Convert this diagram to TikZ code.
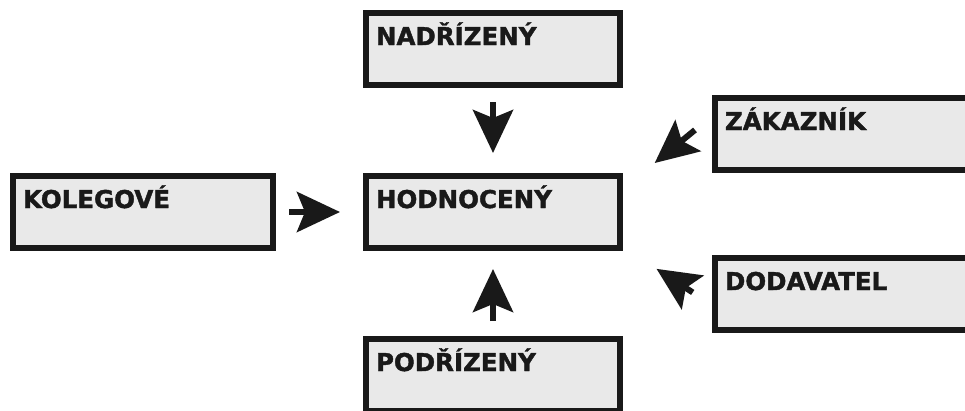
\documentclass[tikz,border=0pt]{standalone}
\usepackage{fontspec}
\setmainfont{DejaVu Sans}[BoldFeatures={FakeBold=1.6}]
\usepackage{tikz}
\usetikzlibrary{arrows.meta,positioning}

\begin{document}
\begin{tikzpicture}[
    x=1pt, y=1pt,
    rolebox/.style={rectangle, draw=black!90, line width=6pt, fill=gray!17,
        minimum width=254pt, text width=234pt, align=left,
        inner xsep=10pt, inner ysep=14pt, text height=18pt, text depth=26pt,
        font=\fontsize{24.5}{28}\selectfont\bfseries, text=black!90},
    arrow/.style={-{Stealth[length=43pt, width=40pt, inset=8pt]}, line width=6pt, black!90},
]
\useasboundingbox (0,0) rectangle (965,-410);

% Evaluated person
\node[rolebox, anchor=north west] (hodnoceny) at (363,-173) {HODNOCENÝ};

% Evaluators
\node[rolebox, above=85pt of hodnoceny] (nadrizeny) {NADŘÍZENÝ};
\node[rolebox, below=85pt of hodnoceny] (podrizeny) {PODŘÍZENÝ};
\node[rolebox, left=87pt of hodnoceny, text width=240pt] (kolegove) {KOLEGOVÉ};
\node[rolebox, anchor=north west] (zakaznik) at (712,-95) {ZÁKAZNÍK};
\node[rolebox, anchor=north west] (dodavatel) at (712,-255) {DODAVATEL};

% Feedback arrows
\draw[arrow, shorten <=14pt, shorten >=20pt] (nadrizeny) -- (hodnoceny);
\draw[arrow, shorten <=15pt, shorten >=18pt] (podrizeny) -- (hodnoceny);
\draw[arrow, shorten <=13pt, shorten >=23pt] (kolegove) -- (hodnoceny);
\draw[arrow, shorten <=22pt, shorten >=41pt] ([yshift=-21pt]zakaznik.north west) -- ([yshift=-16pt]hodnoceny.north east);
\draw[arrow, shorten <=23pt, shorten >=40pt] ([yshift=-50pt]dodavatel.north west) -- ([yshift=4pt]hodnoceny.south east);

\end{tikzpicture}
\end{document}
